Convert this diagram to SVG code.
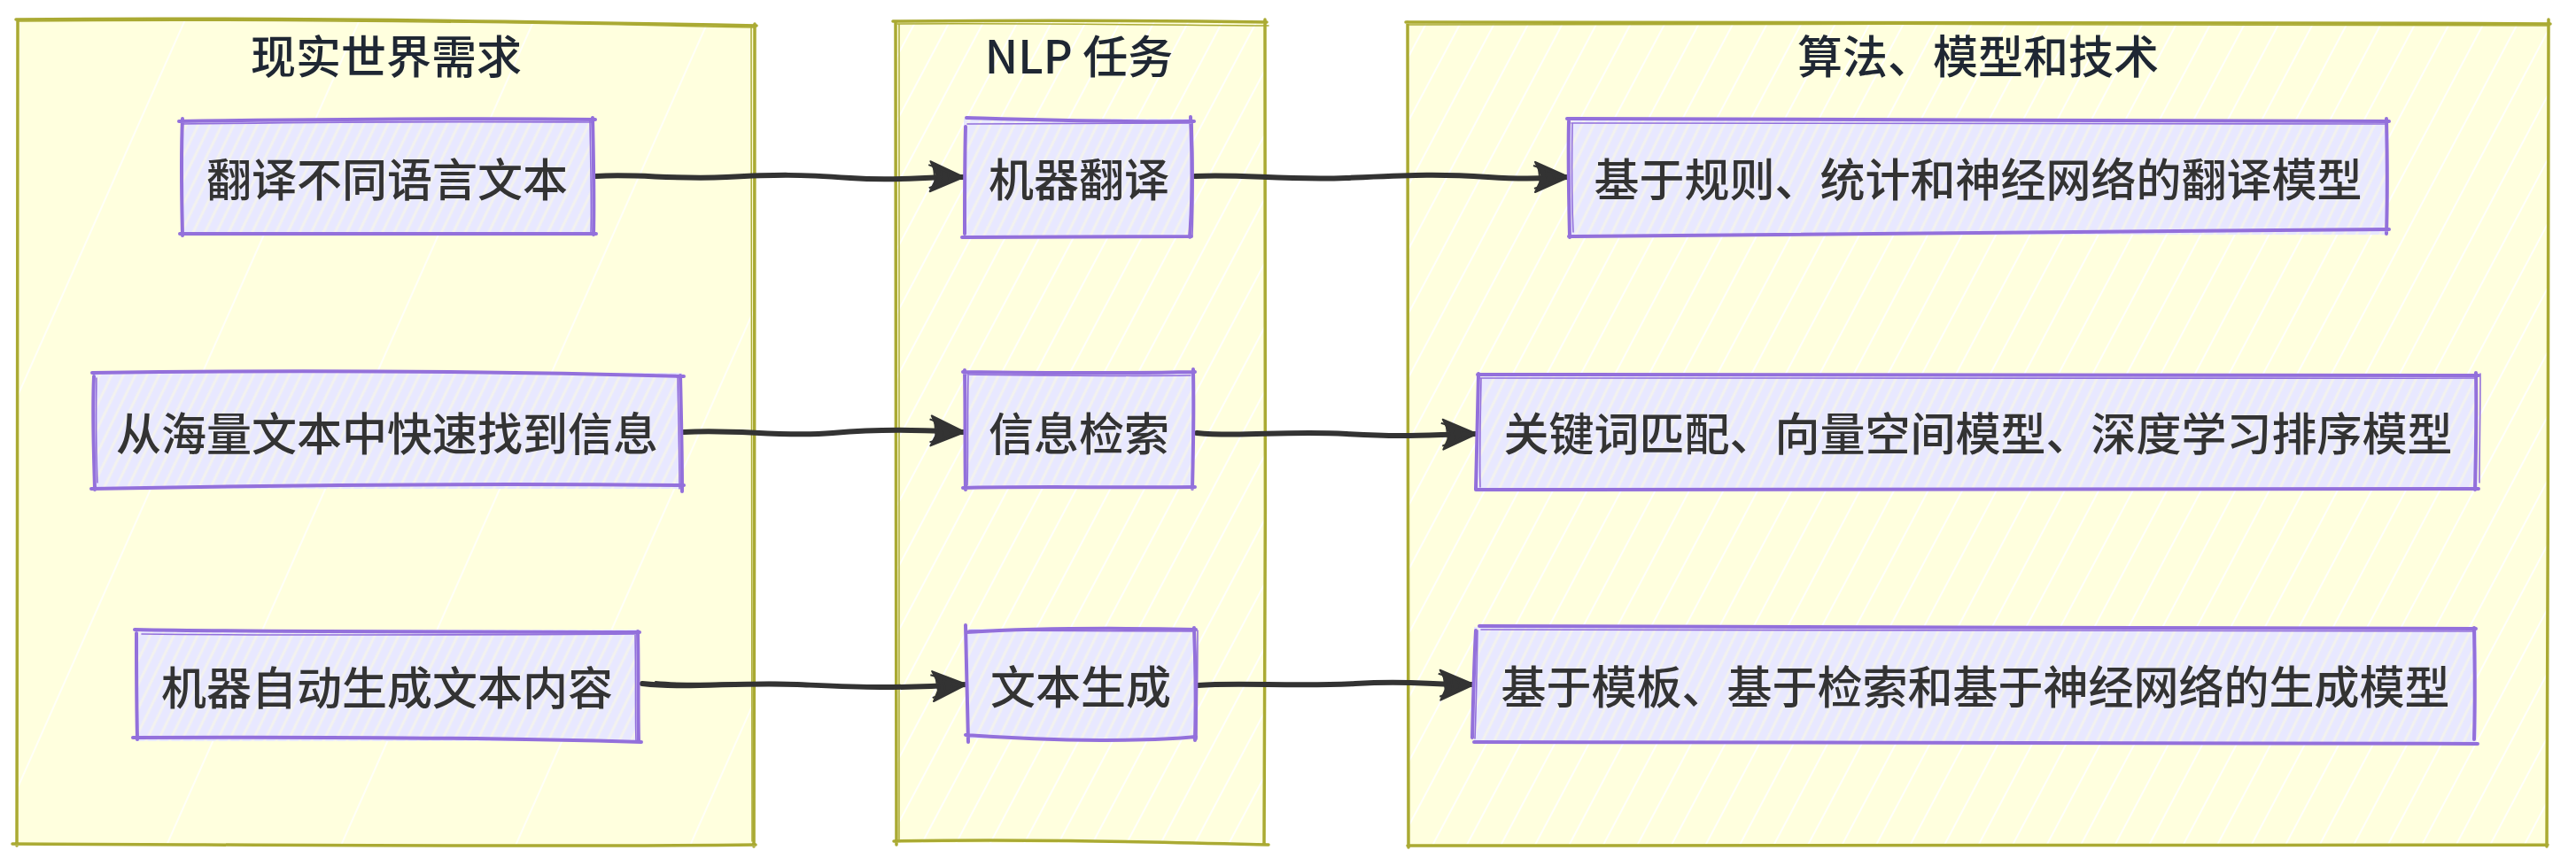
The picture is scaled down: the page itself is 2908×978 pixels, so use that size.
<svg xmlns="http://www.w3.org/2000/svg" width="2908" height="978" viewBox="0 0 2908 978">
<defs>
<style>
.cont{fill:#ffffde;}
.contHatch{fill:url(#contHatch);}
.contStroke{fill:none;stroke:#aaaa33;stroke-width:3.5;stroke-linecap:round;stroke-linejoin:round;}
.contStroke2{fill:none;stroke:#aaaa33;stroke-width:1.5;stroke-linecap:round;}
.boxFill{fill:url(#boxHatch);}
.boxStroke{fill:none;stroke:#9370db;stroke-width:4;stroke-linecap:round;stroke-linejoin:round;}
.boxStroke2{fill:none;stroke:#9370db;stroke-width:1.6;stroke-linecap:round;}
.title{font-family:"Noto Sans CJK SC","Noto Sans",sans-serif;font-size:51px;font-weight:500;fill:#1f2733;text-anchor:middle;dominant-baseline:central;}
.label{font-family:"Noto Sans CJK SC","Noto Sans",sans-serif;font-size:51px;font-weight:500;fill:#333333;text-anchor:middle;dominant-baseline:central;}
.edge{fill:none;stroke:#333333;stroke-width:6;stroke-linecap:round;stroke-linejoin:round;marker-end:url(#arrow);}
.edge2{fill:none;stroke:#333333;stroke-width:2;stroke-linecap:round;}
</style>
<pattern id="contHatch" patternUnits="userSpaceOnUse" width="34" height="60" patternTransform="rotate(28)">
<line x1="6" y1="0" x2="6" y2="60" stroke="#ffffff" stroke-width="2" stroke-opacity="0.9"/>
</pattern>
<pattern id="contHatchSparse" patternUnits="userSpaceOnUse" width="180" height="60" patternTransform="rotate(24)">
<line x1="20" y1="0" x2="20" y2="60" stroke="#ffffff" stroke-width="2" stroke-opacity="0.8"/>
</pattern>
<pattern id="boxHatch" patternUnits="userSpaceOnUse" width="12" height="40" patternTransform="rotate(26)">
<rect x="0" y="0" width="12" height="40" fill="#f3f2ee"/>
<line x1="5" y1="0" x2="5" y2="40" stroke="#e8e8ff" stroke-width="9"/>
</pattern>
<marker id="arrow" markerUnits="userSpaceOnUse" markerWidth="46" markerHeight="46" viewBox="0 0 46 46" refX="42" refY="23" orient="auto">
<path d="M4,6 L42,23 L4,40 L12,23 Z" fill="#333333" stroke="#333333" stroke-width="2" stroke-linejoin="round"/>
<path d="M2,10 L40,23 M3,36 L40,22 M8,14 L10,32 M16,16 L18,30 M24,18 L26,28" stroke="#333333" stroke-width="2" fill="none"/>
</marker>
</defs>

<rect width="2908" height="978" fill="#ffffff"/>

<!-- Containers -->
<g id="cluster-real">
<path class="cont" d="M19,22 L853,29 L853,955 L19,955 Z"/>
<path fill="url(#contHatchSparse)" d="M19,22 L853,29 L853,955 L19,955 Z"/>
<path class="contStroke" d="M18,22 C300,19 600,24 854,29 M852,27 C853,300 851,650 851,956 M853,954 C600,957 300,954 14,953 M19,955 C20,650 19,300 20,24"/>
<path class="contStroke2" d="M20,24 C320,21 620,26 851,31 M848,30 C849,400 850,700 849,950"/>
<text class="title" x="436" y="61">现实世界需求</text>
</g>

<g id="cluster-nlp">
<path class="cont" d="M1011,25 L1429,25 L1429,952 L1011,952 Z"/>
<path class="contHatch" d="M1011,25 L1429,25 L1429,952 L1011,952 Z"/>
<path class="contStroke" d="M1008,24 C1150,23 1300,23 1430,25 M1428,22 C1430,300 1428,650 1427,952 M1432,954 C1300,951 1150,947 1009,950 M1012,954 C1011,650 1012,300 1011,24"/>
<path class="contStroke2" d="M1013,27 C1150,26 1300,28 1432,29 M1015,28 C1016,400 1014,700 1015,948"/>
<text class="title" x="1218" y="61">NLP 任务</text>
</g>

<g id="cluster-algo">
<path class="cont" d="M1589,25 L2877,25 L2877,955 L1589,955 Z"/>
<path class="contHatch" d="M1589,25 L2877,25 L2877,955 L1589,955 Z"/>
<path class="contStroke" d="M1587,25 C1900,24 2400,24 2879,27 M2877,22 C2876,300 2877,650 2875,956 M2876,954 C2400,955 1900,956 1589,955 M1590,957 C1589,650 1590,300 1589,25"/>
<path class="contStroke2" d="M1590,28 C2000,27 2500,27 2876,29"/>
<text class="title" x="2233" y="61">算法、模型和技术</text>
</g>

<!-- Connectors -->
<g id="connectors">
<path class="edge" d="M673,199 C720,196 760,203 820,200 S900,197 960,201 S1040,199 1088,200"/>
<path class="edge" d="M1349,199 C1400,196 1450,204 1520,201 S1620,196 1680,200 S1745,200 1771,200"/>
<path class="edge" d="M772,488 C830,484 880,494 940,489 S1040,486 1089,488"/>
<path class="edge" d="M1351,489 C1400,494 1450,486 1520,490 S1610,491 1667,490"/>
<path class="edge" d="M725,772 C780,778 830,770 900,773 S1000,778 1091,773"/>
<path class="edge" d="M1352,774 C1400,770 1460,776 1530,772 S1610,774 1664,773"/>
<path class="edge2" d="M740,770 C790,775 840,769 900,771"/>
</g>

<!-- Nodes -->
<g id="node-translate-need">
<rect class="boxFill" x="205" y="136" width="465" height="127"/>
<path class="boxStroke" d="M202,137 C350,135 500,133 672,135 M669,133 C670,180 671,220 670,265 M673,264 C500,265 350,263 203,264 M206,266 C205,220 204,180 206,134"/>
<path class="boxStroke2" d="M205,140 C360,138 520,137 668,138 M666,137 C667,200 668,230 667,262"/>
<text class="label" x="437" y="200">翻译不同语言文本</text>
</g>

<g id="node-search-need">
<rect class="boxFill" x="105" y="421" width="665" height="131"/>
<path class="boxStroke" d="M104,421 C300,418 550,419 772,425 M768,424 C769,470 770,510 770,555 M772,548 C550,546 300,548 103,552 M107,553 C106,510 104,470 106,425"/>
<path class="boxStroke2" d="M109,427 C108,480 109,520 110,545 M765,426 C766,480 767,520 767,552"/>
<text class="label" x="437" y="487">从海量文本中快速找到信息</text>
</g>

<g id="node-gen-need">
<rect class="boxFill" x="153" y="711" width="569" height="126"/>
<path class="boxStroke" d="M152,711 C300,714 500,713 722,714 M720,713 C721,760 720,800 721,838 M724,838 C550,833 350,832 150,833 M155,835 C154,790 154,750 154,715"/>
<path class="boxStroke2" d="M160,716 C350,718 520,717 718,716 M717,716 C718,770 717,810 718,836"/>
<text class="label" x="437" y="774">机器自动生成文本内容</text>
</g>

<g id="node-mt">
<rect class="boxFill" x="1088" y="134" width="257" height="132"/>
<path class="boxStroke" d="M1091,133 C1160,135 1250,138 1348,137 M1344,132 C1346,180 1346,230 1343,268 M1345,267 C1250,267 1160,268 1086,268 M1089,264 C1089,220 1089,180 1090,143"/>
<path class="boxStroke2" d="M1092,140 C1160,140 1250,140 1342,139 M1346,137 C1348,200 1347,240 1346,266"/>
<text class="label" x="1218" y="200">机器翻译</text>
</g>

<g id="node-ir">
<rect class="boxFill" x="1089" y="419" width="258" height="131"/>
<path class="boxStroke" d="M1087,420 C1160,421 1260,422 1349,420 M1347,417 C1348,470 1347,510 1346,552 M1349,550 C1260,551 1160,549 1087,551 M1090,553 C1089,510 1090,470 1089,418"/>
<path class="boxStroke2" d="M1092,423 C1180,424 1260,425 1344,424 M1093,422 C1092,480 1093,520 1092,548"/>
<text class="label" x="1218" y="487">信息检索</text>
</g>

<g id="node-gen">
<rect class="boxFill" x="1091" y="710" width="258" height="124"/>
<path class="boxStroke" d="M1091,714 C1160,710 1260,709 1350,711 M1348,709 C1350,760 1350,800 1349,836 M1350,832 C1300,837 1200,838 1090,830 M1093,838 C1092,800 1091,750 1090,706"/>
<path class="boxStroke2" d="M1094,712 C1180,713 1260,712 1346,713 M1352,712 C1352,770 1351,810 1351,835"/>
<text class="label" x="1220" y="773">文本生成</text>
</g>

<g id="node-mt-model">
<rect class="boxFill" x="1771" y="135" width="924" height="130"/>
<path class="boxStroke" d="M1769,134 C2100,136 2400,137 2697,137 M2694,134 C2695,180 2695,230 2694,264 M2697,259 C2400,262 2100,265 1771,267 M1772,268 C1771,220 1770,180 1771,137"/>
<path class="boxStroke2" d="M1774,139 C2100,140 2400,141 2692,140 M1775,140 C1774,200 1775,240 1776,262"/>
<text class="label" x="2233" y="200">基于规则、统计和神经网络的翻译模型</text>
</g>

<g id="node-ir-model">
<rect class="boxFill" x="1668" y="423" width="1129" height="129"/>
<path class="boxStroke" d="M1668,423 C2000,425 2400,424 2798,424 M2795,421 C2796,470 2795,510 2794,553 M2798,552 C2400,553 2000,553 1667,553 M1666,553 C1667,510 1668,470 1669,422"/>
<path class="boxStroke2" d="M1670,427 C2000,428 2400,428 2795,427 M1672,428 C1671,480 1670,520 1671,550 M2800,422 C2800,470 2799,510 2799,545"/>
<text class="label" x="2233" y="487">关键词匹配、向量空间模型、深度学习排序模型</text>
</g>

<g id="node-gen-model">
<rect class="boxFill" x="1664" y="708" width="1132" height="130"/>
<path class="boxStroke" d="M1670,707 C2000,708 2400,709 2795,710 M2793,709 C2794,760 2794,800 2793,835 M2797,840 C2400,838 2000,836 1664,838 M1662,833 C1663,790 1664,750 1666,712"/>
<path class="boxStroke2" d="M1672,711 C2000,712 2400,712 2792,713 M1668,712 C1667,770 1666,810 1665,834"/>
<text class="label" x="2230" y="773">基于模板、基于检索和基于神经网络的生成模型</text>
</g>
</svg>
